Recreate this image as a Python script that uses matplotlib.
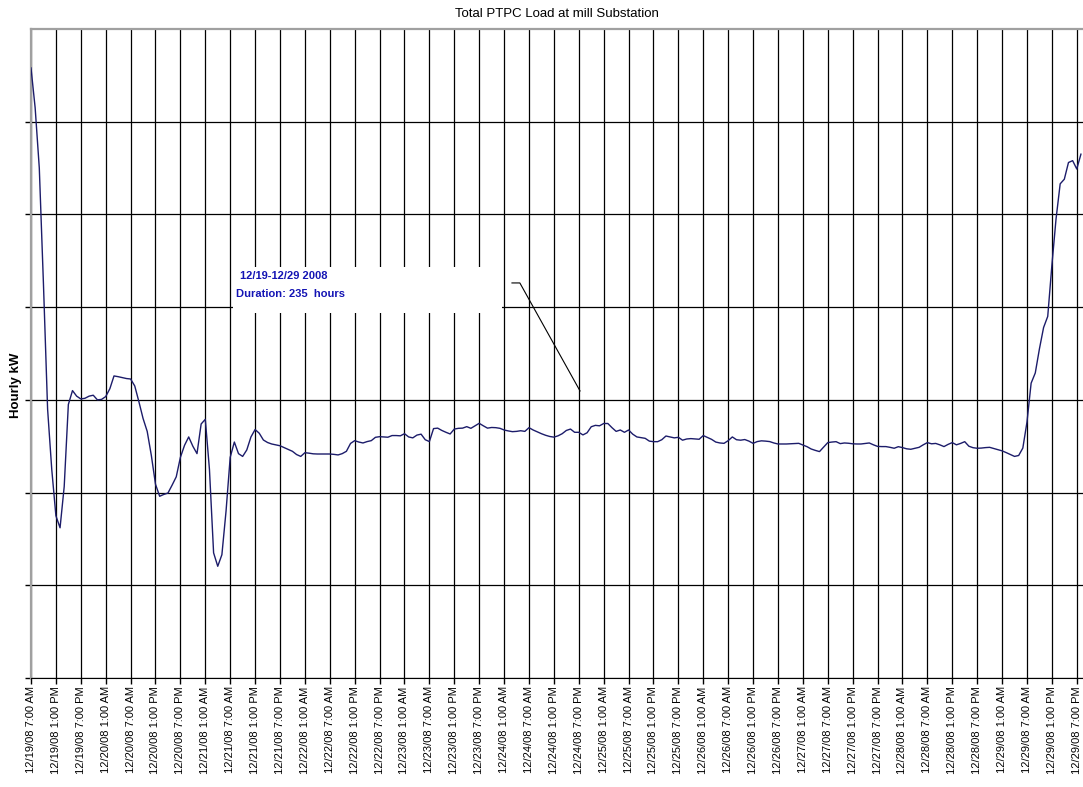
import matplotlib
matplotlib.use('Agg')
import matplotlib.pyplot as plt
import numpy as np
from matplotlib.patches import Rectangle

plt.rcParams['font.family'] = ['Liberation Sans', 'DejaVu Sans']

# hourly load, starting 12/19/08 7:00 AM
load_kw = [
    6580, 6150, 5500, 4250, 2900, 2250, 1750, 1620, 2064, 2950, 3100, 3040,
    3010, 3017, 3040, 3050, 3000, 3005, 3035, 3120, 3258, 3250, 3240, 3230,
    3225, 3150, 2980, 2800, 2660, 2400, 2090, 1960, 1980, 1995, 2080, 2170,
    2380, 2510, 2600, 2500, 2420, 2740, 2790, 2250, 1350, 1205, 1330, 1800,
    2380, 2545, 2420, 2390, 2460, 2600, 2680, 2640, 2567, 2540, 2524, 2515,
    2505, 2485, 2465, 2445, 2410, 2390, 2430, 2425, 2418, 2416, 2416, 2416,
    2416, 2412, 2406, 2420, 2445, 2530, 2560, 2545, 2535, 2550, 2560, 2596,
    2603, 2600, 2597, 2615, 2615, 2612, 2635, 2600, 2590, 2620, 2630, 2570,
    2550, 2690, 2695, 2670, 2650, 2632, 2685, 2693, 2695, 2711, 2693, 2720,
    2747, 2720, 2695, 2702, 2700, 2693, 2675, 2665, 2657, 2660, 2667, 2660,
    2700, 2675, 2655, 2635, 2618, 2605, 2598, 2612, 2635, 2670, 2685, 2650,
    2650, 2622, 2645, 2710, 2725, 2720, 2745, 2745, 2700, 2660, 2675, 2650,
    2675, 2630, 2600, 2592, 2585, 2555, 2549, 2549, 2570, 2610, 2600, 2590,
    2596, 2565, 2578, 2582, 2578, 2575, 2615, 2595, 2574, 2545, 2535, 2531,
    2560, 2600, 2570, 2565, 2572, 2555, 2531, 2550, 2558, 2555, 2550, 2535,
    2524, 2524, 2524, 2526, 2528, 2531, 2513, 2495, 2470, 2455, 2442, 2490,
    2539, 2545, 2549, 2528, 2535, 2532, 2526, 2524, 2524, 2530, 2535, 2515,
    2498, 2496, 2496, 2488, 2478, 2495, 2485, 2472, 2467, 2478, 2488, 2515,
    2539, 2526, 2530, 2515, 2496, 2520, 2539, 2515, 2530, 2549, 2500, 2484,
    2478, 2480, 2485, 2488, 2475, 2462, 2450, 2431, 2410, 2390, 2400, 2480,
    2760, 3180, 3290, 3550, 3780, 3900, 4450, 4950, 5330, 5380, 5560, 5580,
    5490, 5650,
]

tick_labels = [
    '12/19/08 7:00 AM', '12/19/08 1:00 PM', '12/19/08 7:00 PM',
    '12/20/08 1:00 AM', '12/20/08 7:00 AM', '12/20/08 1:00 PM', '12/20/08 7:00 PM',
    '12/21/08 1:00 AM', '12/21/08 7:00 AM', '12/21/08 1:00 PM', '12/21/08 7:00 PM',
    '12/22/08 1:00 AM', '12/22/08 7:00 AM', '12/22/08 1:00 PM', '12/22/08 7:00 PM',
    '12/23/08 1:00 AM', '12/23/08 7:00 AM', '12/23/08 1:00 PM', '12/23/08 7:00 PM',
    '12/24/08 1:00 AM', '12/24/08 7:00 AM', '12/24/08 1:00 PM', '12/24/08 7:00 PM',
    '12/25/08 1:00 AM', '12/25/08 7:00 AM', '12/25/08 1:00 PM', '12/25/08 7:00 PM',
    '12/26/08 1:00 AM', '12/26/08 7:00 AM', '12/26/08 1:00 PM', '12/26/08 7:00 PM',
    '12/27/08 1:00 AM', '12/27/08 7:00 AM', '12/27/08 1:00 PM', '12/27/08 7:00 PM',
    '12/28/08 1:00 AM', '12/28/08 7:00 AM', '12/28/08 1:00 PM', '12/28/08 7:00 PM',
    '12/29/08 1:00 AM', '12/29/08 7:00 AM', '12/29/08 1:00 PM', '12/29/08 7:00 PM',
]
tick_hours = np.arange(len(tick_labels)) * 6
hours = np.arange(len(load_kw))

W, H = 1083, 787
fig = plt.figure(figsize=(W / 100, H / 100), dpi=100)
ax = fig.add_axes([31 / W, (H - 678) / H, (W - 31) / W, 649 / H])

ax.plot(hours, load_kw, color='#1c1c6a', lw=1.0, zorder=3)

ax.set_xlim(0, 253.5)
ax.set_ylim(0, 7000)
ax.set_xticks(tick_hours)
ax.set_xticklabels(tick_labels, rotation=90, fontsize=8)
ax.set_yticks(np.arange(0, 7000, 1000))
ax.set_yticklabels([])
ax.tick_params(axis='x', length=4, width=1, pad=2)
ax.tick_params(axis='y', length=4, width=1)
ax.set_axisbelow(True)
ax.grid(True, color='black', lw=0.9)

for side in ['left', 'top']:
    ax.spines[side].set_color('#a0a0a0')
    ax.spines[side].set_linewidth(1.6)
ax.spines['right'].set_visible(False)
ax.spines['bottom'].set_color('black')

# text box covering the grid
ax.add_patch(Rectangle((48.7, 3937), 64.8, 497, facecolor='white',
                       edgecolor='none', zorder=1))
ax.text(50.4, 4337, '12/19-12/29 2008', color='#1414b4', fontsize=8,
        fontweight='bold', va='center', ha='left', zorder=4)
ax.text(49.4, 4142, 'Duration: 235  hours', color='#1414b4', fontsize=8,
        fontweight='bold', va='center', ha='left', zorder=4)
ax.plot([115.9, 117.8, 132.3], [4261, 4261, 3096], color='black', lw=0.8, zorder=4)

fig.text(557 / W, 1 - 14 / H, 'Total PTPC Load at mill Substation',
         ha='center', va='center', fontsize=9.5)
fig.text(16 / W, 1 - 385 / H, 'Hourly kW', rotation=90, ha='center',
         va='center', fontsize=9.5, fontweight='bold')

fig.savefig('out.png', dpi=100)
